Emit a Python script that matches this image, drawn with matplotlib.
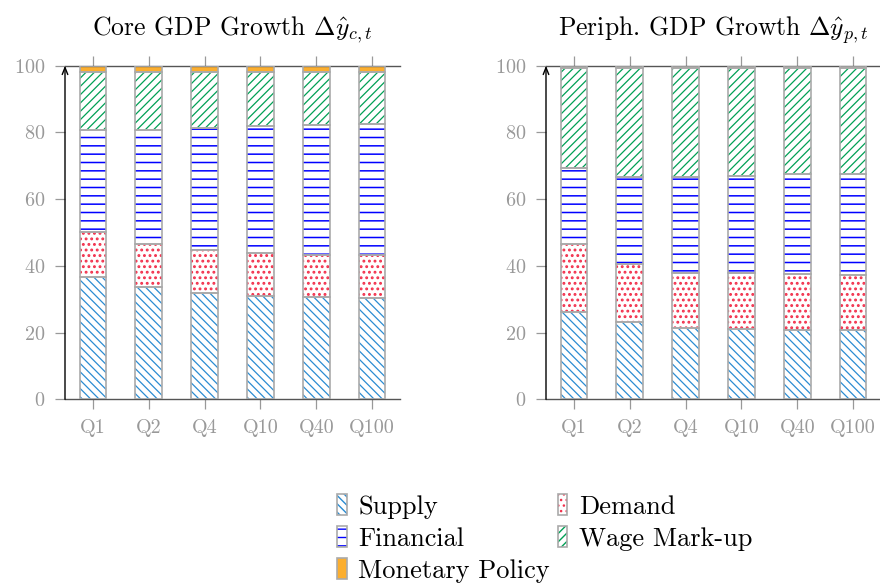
import matplotlib
matplotlib.use('Agg')
import matplotlib.pyplot as plt
import numpy as np
from matplotlib.patches import Patch
from matplotlib.legend_handler import HandlerTuple

plt.rcParams['font.family'] = 'serif'
plt.rcParams['font.serif'] = ['cmr10', 'DejaVu Serif']
plt.rcParams['mathtext.fontset'] = 'cm'
plt.rcParams['axes.formatter.use_mathtext'] = True
plt.rcParams['axes.unicode_minus'] = False

quantiles = ['Q1', 'Q2', 'Q4', 'Q10', 'Q40', 'Q100']
shock_names = ['Supply', 'Demand', 'Financial', 'Wage Mark-up', 'Monetary Policy']

# variance shares (%) of each shock per horizon
core_supply = [36.8, 33.8, 31.8, 31.1, 30.6, 30.5]
core_demand = [13.4, 12.7, 13.0, 12.7, 12.7, 12.8]
core_financial = [30.5, 34.2, 36.6, 38.1, 39.0, 39.1]
core_wage = [17.5, 17.5, 16.8, 16.2, 15.8, 15.7]
core_monetary = [1.8, 1.8, 1.8, 1.9, 1.9, 1.9]

periph_supply = [26.3, 23.2, 21.3, 21.1, 20.9, 20.8]
periph_demand = [20.3, 17.4, 16.7, 16.7, 16.6, 16.6]
periph_financial = [22.6, 26.1, 28.5, 29.2, 29.9, 30.2]
periph_wage = [30.0, 32.5, 32.7, 32.2, 31.8, 31.6]
periph_monetary = [0.8, 0.8, 0.8, 0.8, 0.8, 0.8]

styles = [
    dict(color='#2b8cd2', hatch='\\' * 4, lw=0.9, fill=False),
    dict(color='#f2304c', hatch='...', lw=1.3, fill=False),
    dict(color='#0000ff', hatch='--', lw=1.1, fill=False),
    dict(color='#00a055', hatch='/' * 4, lw=0.9, fill=False),
    dict(color='#fbae2f', hatch=None, lw=1.0, fill=True),
]
EDGE = '#aaaaaa'
GREY = '#999999'


def hatchedPatch(st):
    with plt.rc_context({'hatch.linewidth': st['lw']}):
        if st['fill']:
            return Patch(facecolor=st['color'], linewidth=0)
        return Patch(facecolor='white', edgecolor=st['color'], hatch=st['hatch'], linewidth=0)


def drawPanel(ax, series, title):
    x = np.arange(len(quantiles))
    bottom = np.zeros(len(quantiles))
    for values, st in zip(series, styles):
        values = np.array(values)
        with plt.rc_context({'hatch.linewidth': st['lw']}):
            if st['fill']:
                ax.bar(x, values, 0.48, bottom=bottom, color=st['color'], linewidth=0, zorder=2)
            else:
                ax.bar(x, values, 0.48, bottom=bottom, facecolor='white', edgecolor=st['color'],
                       hatch=st['hatch'], linewidth=0, zorder=2)
        ax.bar(x, values, 0.48, bottom=bottom, fill=False, edgecolor=EDGE, linewidth=1.2, zorder=3)
        bottom += values

    ax.set_xlim(-0.5, 5.5)
    ax.set_ylim(0, 100)
    ax.set_xticks(x)
    ax.set_xticklabels(quantiles)
    ax.set_yticks(range(0, 101, 20))
    ax.tick_params(axis='both', colors=GREY, labelcolor=GREY, length=7, width=0.9,
                   labelsize=14.5, direction='out')
    ax.tick_params(axis='x', top=True, pad=7)
    ax.tick_params(axis='y', pad=7)
    ax.spines['right'].set_visible(False)
    ax.spines['left'].set_visible(False)
    for side in ['top', 'bottom']:
        ax.spines[side].set_color('#555555')
        ax.spines[side].set_linewidth(1.0)
    ax.annotate('', xy=(0, 1.0), xytext=(0, 0), xycoords='axes fraction',
                arrowprops=dict(arrowstyle='->,head_length=0.5,head_width=0.2',
                                color='black', lw=1.0, shrinkA=0, shrinkB=0),
                zorder=5)
    ax.set_title(title, fontsize=18.5, pad=22)


fig = plt.figure(figsize=(8.8, 5.87), dpi=100)
axLeft = fig.add_axes([65 / 880, 1 - 399.3 / 587, 335 / 880, 333.6 / 587])
axRight = fig.add_axes([546 / 880, 1 - 399.3 / 587, 335 / 880, 333.6 / 587])

drawPanel(axLeft, [core_supply, core_demand, core_financial, core_wage, core_monetary],
          r'Core GDP Growth $\Delta\hat{y}_{c,t}$')
drawPanel(axRight, [periph_supply, periph_demand, periph_financial, periph_wage, periph_monetary],
          r'Periph. GDP Growth $\Delta\hat{y}_{p,t}$')

handles = []
for st in styles:
    outer = Patch(fill=False, edgecolor=EDGE, linewidth=1.2)
    handles.append((hatchedPatch(st), outer))

order = [0, 2, 4, 1, 3]
fig.legend([handles[i] for i in order], [shock_names[i] for i in order],
           handler_map={tuple: HandlerTuple(ndivide=1, pad=0)},
           loc='upper left', bbox_to_anchor=(337 / 880, 1 - 494 / 587), ncol=2,
           frameon=False, fontsize=19, handlelength=0.36, handleheight=0.85,
           handletextpad=0.45, columnspacing=0.3, labelspacing=0.28, borderpad=0,
           borderaxespad=0)

fig.savefig('out.png', dpi=100)
